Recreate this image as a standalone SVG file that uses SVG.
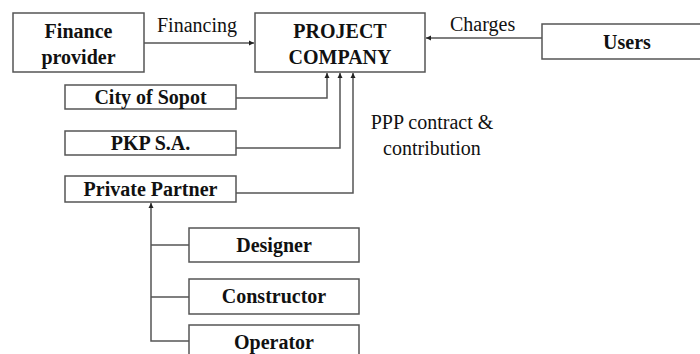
<svg xmlns="http://www.w3.org/2000/svg" width="700" height="354" viewBox="0 0 700 354">
<defs>
<marker id="ah" markerWidth="6" markerHeight="6" refX="5" refY="3" orient="auto" markerUnits="userSpaceOnUse">
<path d="M0,0.5 L5,3 L0,5.5 Z" fill="#222"/>
</marker>
<style>
text{font-family:'Liberation Serif','Times New Roman',Times,serif}
.box{fill:#fff;stroke:#555;stroke-width:1.5}
.t{font-size:20px;font-weight:bold;fill:#111;text-anchor:middle}
.l{font-size:20px;fill:#111}
.c{fill:none;stroke:#555;stroke-width:1.5}
</style>
</defs>
<rect width="700" height="354" fill="#fff"/>
<g id="connectors">
<path class="c" d="M144,43 H254" marker-end="url(#ah)"/>
<path class="c" d="M542,38 H426" marker-end="url(#ah)"/>
<path class="c" d="M236,98 H327 V73" marker-end="url(#ah)"/>
<path class="c" d="M236,148 H340 V73" marker-end="url(#ah)"/>
<path class="c" d="M236,193 H353 V73" marker-end="url(#ah)"/>
<path class="c" d="M189,341 H151 V203" marker-end="url(#ah)"/>
<path class="c" d="M151,245 H189 M151,297 H189"/>
<text class="l" x="157" y="32">Financing</text>
<text class="l" x="450" y="31">Charges</text>
<text class="l" x="432" y="129" text-anchor="middle">PPP contract &amp;</text>
<text class="l" x="432" y="155" text-anchor="middle">contribution</text>
</g>
<g id="finance">
<rect class="box" x="13" y="13" width="131" height="59"/>
<text class="t" x="78.5" y="38">Finance</text>
<text class="t" x="78.5" y="64">provider</text>
</g>
<g id="project">
<rect class="box" x="255" y="13" width="170" height="59"/>
<text class="t" x="340" y="38">PROJECT</text>
<text class="t" x="340" y="64">COMPANY</text>
</g>
<g id="users">
<rect class="box" x="542" y="24" width="170" height="35"/>
<text class="t" x="627" y="49">Users</text>
</g>
<g id="city">
<rect class="box" x="65" y="85" width="171" height="24"/>
<text class="t" x="150.5" y="104">City of Sopot</text>
</g>
<g id="pkp">
<rect class="box" x="65" y="131" width="171" height="24"/>
<text class="t" x="150.5" y="150">PKP S.A.</text>
</g>
<g id="private">
<rect class="box" x="65" y="176" width="171" height="26"/>
<text class="t" x="150.5" y="196">Private Partner</text>
</g>
<g id="designer">
<rect class="box" x="189" y="228" width="170" height="34"/>
<text class="t" x="274" y="252">Designer</text>
</g>
<g id="constructor">
<rect class="box" x="189" y="279" width="170" height="35"/>
<text class="t" x="274" y="303">Constructor</text>
</g>
<g id="operator">
<rect class="box" x="189" y="325" width="170" height="40"/>
<text class="t" x="274" y="349">Operator</text>
</g>
</svg>
